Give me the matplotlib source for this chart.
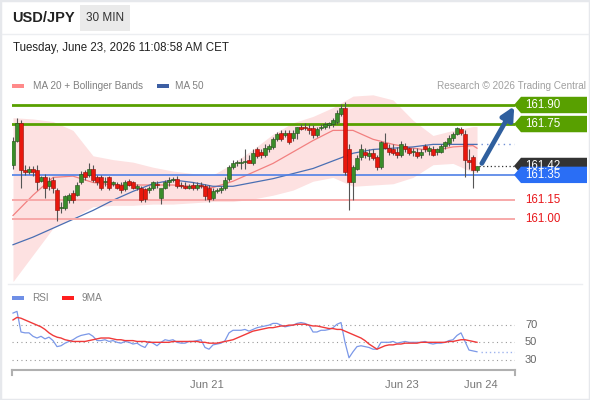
import matplotlib
matplotlib.use('Agg')
import matplotlib.pyplot as plt
import matplotlib.transforms as mtransforms
from matplotlib.patches import Polygon, Rectangle
from matplotlib.lines import Line2D
import numpy as np

plt.rcParams['font.family'] = ['Liberation Sans', 'DejaVu Sans']

# ---- price candles (USD/JPY, 30 min) ----
opens = [161.43, 161.62, 161.76, 161.39, 161.37, 161.40, 161.39, 161.30, 161.33, 161.26,
         161.31, 161.23, 161.09, 161.09, 161.15, 161.21, 161.19, 161.29, 161.37, 161.35,
         161.40, 161.33, 161.33, 161.29, 161.33, 161.28, 161.28, 161.27, 161.24, 161.30,
         161.29, 161.25, 161.25, 161.24, 161.23, 161.25, 161.28, 161.17, 161.25, 161.29,
         161.31, 161.32, 161.27, 161.26, 161.25, 161.27, 161.25, 161.27, 161.26, 161.25,
         161.17, 161.22, 161.23, 161.25, 161.32, 161.41, 161.44, 161.44, 161.45, 161.47,
         161.44, 161.55, 161.53, 161.51, 161.55, 161.57, 161.63, 161.68, 161.66, 161.68,
         161.64, 161.68, 161.73, 161.73, 161.72, 161.72, 161.66, 161.72, 161.73, 161.74,
         161.75, 161.77, 161.83, 161.88, 161.55, 161.29, 161.40, 161.49, 161.53, 161.50,
         161.52, 161.49, 161.41, 161.60, 161.56, 161.55, 161.53, 161.51, 161.58, 161.56,
         161.53, 161.53, 161.51, 161.58, 161.54, 161.55, 161.53, 161.53, 161.58, 161.60,
         161.64, 161.67, 161.71, 161.67, 161.47, 161.49, 161.39]
highs = [161.65, 161.80, 161.78, 161.43, 161.42, 161.42, 161.43, 161.34, 161.36, 161.33,
         161.33, 161.25, 161.14, 161.19, 161.21, 161.23, 161.29, 161.38, 161.39, 161.44,
         161.43, 161.35, 161.35, 161.33, 161.34, 161.30, 161.29, 161.29, 161.31, 161.32,
         161.30, 161.28, 161.26, 161.25, 161.26, 161.30, 161.30, 161.23, 161.31, 161.33,
         161.33, 161.34, 161.29, 161.29, 161.28, 161.29, 161.29, 161.29, 161.28, 161.27,
         161.25, 161.25, 161.26, 161.33, 161.43, 161.47, 161.47, 161.48, 161.55, 161.51,
         161.55, 161.57, 161.55, 161.59, 161.59, 161.65, 161.69, 161.70, 161.70, 161.70,
         161.70, 161.73, 161.75, 161.76, 161.75, 161.74, 161.73, 161.75, 161.77, 161.77,
         161.80, 161.86, 161.91, 161.92, 161.59, 161.43, 161.51, 161.59, 161.56, 161.55,
         161.55, 161.51, 161.62, 161.68, 161.59, 161.59, 161.57, 161.62, 161.60, 161.57,
         161.56, 161.56, 161.55, 161.59, 161.58, 161.58, 161.56, 161.59, 161.62, 161.66,
         161.69, 161.73, 161.73, 161.70, 161.55, 161.51, 161.42]
lows = [161.40, 161.61, 161.25, 161.35, 161.36, 161.34, 161.23, 161.29, 161.17, 161.23,
        161.21, 160.99, 161.05, 161.07, 161.13, 161.13, 161.18, 161.28, 161.31, 161.33,
        161.29, 161.27, 161.23, 161.26, 161.23, 161.26, 161.24, 161.21, 161.22, 161.26,
        161.24, 161.23, 161.14, 161.14, 161.21, 161.23, 161.25, 161.12, 161.24, 161.26,
        161.29, 161.25, 161.25, 161.24, 161.24, 161.23, 161.23, 161.25, 161.15, 161.14,
        161.15, 161.21, 161.21, 161.23, 161.30, 161.40, 161.42, 161.40, 161.40, 161.44,
        161.43, 161.48, 161.48, 161.49, 161.53, 161.55, 161.62, 161.62, 161.65, 161.59,
        161.62, 161.63, 161.70, 161.70, 161.67, 161.64, 161.65, 161.70, 161.71, 161.72,
        161.73, 161.75, 161.81, 161.35, 161.07, 161.15, 161.39, 161.47, 161.48, 161.47,
        161.47, 161.39, 161.40, 161.55, 161.51, 161.51, 161.48, 161.49, 161.53, 161.51,
        161.50, 161.48, 161.48, 161.53, 161.51, 161.50, 161.51, 161.52, 161.55, 161.58,
        161.62, 161.66, 161.66, 161.33, 161.40, 161.25, 161.37]
closes = [161.62, 161.76, 161.39, 161.37, 161.40, 161.37, 161.29, 161.33, 161.25, 161.30,
          161.25, 161.07, 161.10, 161.18, 161.19, 161.15, 161.27, 161.36, 161.33, 161.40,
          161.31, 161.29, 161.25, 161.30, 161.25, 161.29, 161.25, 161.23, 161.29, 161.27,
          161.25, 161.26, 161.15, 161.16, 161.25, 161.29, 161.27, 161.25, 161.29, 161.31,
          161.32, 161.26, 161.26, 161.25, 161.26, 161.25, 161.27, 161.26, 161.18, 161.16,
          161.22, 161.23, 161.25, 161.31, 161.41, 161.44, 161.45, 161.45, 161.46, 161.44,
          161.52, 161.50, 161.51, 161.56, 161.58, 161.63, 161.67, 161.63, 161.68, 161.61,
          161.68, 161.73, 161.71, 161.72, 161.70, 161.66, 161.71, 161.73, 161.75, 161.76,
          161.78, 161.84, 161.88, 161.37, 161.29, 161.41, 161.48, 161.55, 161.51, 161.52,
          161.48, 161.41, 161.61, 161.56, 161.53, 161.52, 161.51, 161.59, 161.55, 161.52,
          161.54, 161.50, 161.53, 161.55, 161.56, 161.51, 161.55, 161.58, 161.61, 161.64,
          161.67, 161.72, 161.68, 161.47, 161.45, 161.39, 161.42]

# ---- indicators, read every 5 candles ----
ind_idx = [0, 5, 10, 15, 20, 25, 30, 35, 40, 45, 50, 55, 60, 65, 70, 75, 80, 85, 90, 95,
           100, 105, 110, 115, 116]
bb_upper = [161.80, 161.79, 161.77, 161.70, 161.50, 161.47, 161.45, 161.41, 161.38, 161.36,
            161.35, 161.44, 161.55, 161.67, 161.76, 161.81, 161.88, 161.97, 161.98, 161.94,
            161.78, 161.66, 161.70, 161.73, 161.73]
bb_lower = [160.51, 160.72, 160.93, 161.01, 161.10, 161.11, 161.11, 161.12, 161.12, 161.13,
            161.14, 161.14, 161.16, 161.19, 161.23, 161.30, 161.33, 161.26, 161.27, 161.28,
            161.33, 161.43, 161.44, 161.37, 161.37]
ma20 = [161.03, 161.19, 161.33, 161.34, 161.29, 161.27, 161.27, 161.27, 161.27, 161.26,
        161.25, 161.30, 161.37, 161.44, 161.53, 161.62, 161.70, 161.70, 161.63, 161.59,
        161.56, 161.54, 161.57, 161.58, 161.56]
ma50 = [160.80, 160.86, 160.93, 161.00, 161.07, 161.15, 161.22, 161.28, 161.31, 161.29,
        161.26, 161.26, 161.29, 161.32, 161.36, 161.40, 161.46, 161.52, 161.55, 161.56,
        161.57, 161.59, 161.59, 161.59, 161.59]

# ---- RSI panel ----
rsi = [84, 86, 62, 61, 61, 57, 55, 57, 54, 56, 52, 45, 46, 49, 51, 53, 56, 58, 59, 60,
       57, 52, 52, 53, 51, 52, 50, 49, 51, 50, 48, 49, 46, 44, 51, 49, 46, 50, 53, 52,
       53, 50, 49, 49, 51, 51, 52, 53, 44, 42, 47, 48, 49, 52, 61, 64, 64, 64, 65, 63,
       65, 67, 68, 69, 70, 72, 72, 70, 68, 69, 70, 72, 73, 72, 70, 62, 62, 64, 64, 65,
       67, 71, 73, 50, 32, 39, 45, 46, 45, 44, 42, 42, 50, 50, 50, 51, 49, 50, 51, 50,
       50, 50, 50, 51, 49, 48, 49, 49, 50, 52, 53, 58, 61, 51, 41, 40, 39]
rsi_ma9 = [76, 79, 78, 76, 74, 72, 70, 68, 65, 61, 58, 56, 55, 53, 52, 51, 51, 51, 51, 52,
           53, 54, 55, 55, 55, 54, 53, 53, 52, 52, 52, 51, 51, 51, 50, 50, 50, 50, 50, 50,
           51, 51, 51, 51, 51, 51, 51, 50, 50, 49, 49, 49, 50, 51, 52, 53, 55, 57, 59, 61,
           63, 64, 65, 66, 67, 67, 68, 69, 69, 70, 70, 71, 71, 71, 70, 69, 69, 68, 67, 66,
           66, 65, 65, 63, 61, 59, 57, 55, 52, 48, 45, 42, 44, 46, 47, 47, 48, 48, 49, 49,
           49, 49, 50, 50, 50, 50, 50, 50, 50, 51, 51, 52, 53, 53, 52, 51, 50]

resistances = [161.90, 161.75]
pivot = 161.35
supports = [161.15, 161.00]
last_price = 161.42
date_ticks = [48.5, 97.25, 117]
date_labels = ['Jun 21', 'Jun 23', 'Jun 24']

W, H = 590, 400
fig = plt.figure(figsize=(W / 100, H / 100), dpi=100)
fig.patch.set_facecolor('white')


def fx(x):
    return x / W


def fy(y):
    return 1 - y / H


# frame and separators
fig.add_artist(Rectangle((0, 0), 1, 1, transform=fig.transFigure, fill=False,
                         ec='#e6e8ec', lw=2.5))
fig.add_artist(Line2D([fx(2), fx(588)], [fy(34), fy(34)], color='#eceef1', lw=1))
fig.add_artist(Line2D([fx(8), fx(582)], [fy(284), fy(284)], color='#eceef1', lw=1))

# header
fig.text(fx(12), fy(18), 'USD/JPY', fontsize=10.5, fontweight='bold', color='#222222',
         va='center')
fig.add_artist(Rectangle((fx(80), fy(31)), fx(50), 26 / H, transform=fig.transFigure,
                         fc='#eaeaea', ec='none'))
fig.text(fx(105), fy(18), '30 MIN', fontsize=8.5, color='#333333', ha='center', va='center')
fig.text(fx(13), fy(48), 'Tuesday, June 23, 2026 11:08:58 AM CET', fontsize=8.3,
         color='#222222', va='center')

# legend of main panel
fig.add_artist(Rectangle((fx(12), fy(88)), fx(12), 4 / H, transform=fig.transFigure,
                         fc='#ff8a8a', ec='none'))
fig.text(fx(33), fy(86), 'MA 20 + Bollinger Bands', fontsize=7.2, color='#808080',
         va='center')
fig.add_artist(Rectangle((fx(157), fy(88)), fx(12), 4 / H, transform=fig.transFigure,
                         fc='#3d5fa3', ec='none'))
fig.text(fx(175), fy(86), 'MA 50', fontsize=7.2, color='#808080', va='center')
fig.text(fx(586), fy(86), 'Research \u00a9 2026 Trading Central', fontsize=7.2,
         color='#a0a0a0', va='center', ha='right')

# ---- main price panel ----
ax = fig.add_axes([fx(12), fy(285), fx(515) - fx(12), fy(90) - fy(285)])
ax.set_xlim(-0.25, 125.5)
ax.set_ylim(160.483, 162.018)
ax.axis('off')

ax.fill_between(ind_idx, bb_lower, bb_upper, color='#fde1e1', lw=0, zorder=1)
ax.plot(ind_idx, ma20, color='#f28080', lw=0.9, zorder=2)
ax.plot(ind_idx, ma50, color='#4a6fb3', lw=0.9, zorder=2)

for lv in resistances:
    ax.axhline(lv, color='#58a000', lw=2.0, zorder=3)
ax.axhline(pivot, color='#4f80e6', lw=1.2, zorder=3)
for lv in supports:
    ax.axhline(lv, color='#f7a9a9', lw=1.4, zorder=3)

idx = np.arange(len(closes))
o = np.array(opens)
c = np.array(closes)
up = c >= o
body_lo = np.minimum(o, c)
body_h = np.maximum(np.abs(c - o), 0.006)
ax.vlines(idx, lows, highs, color='#555555', lw=0.8, zorder=4)
ax.bar(idx[up], body_h[up], bottom=body_lo[up], width=0.8, color='#3a8c2a',
       edgecolor='#24501a', lw=0.4, zorder=5)
ax.bar(idx[~up], body_h[~up], bottom=body_lo[~up], width=0.8, color='#e8170d',
       edgecolor='#8c100a', lw=0.4, zorder=5)

# projections to the right edge
ax.hlines(last_price, len(closes) - 0.5, 125.5, colors='#333333', linestyles=(0, (1, 2)),
          lw=0.9, zorder=3)
ax.hlines(ma50[-1], len(closes), 125.5, colors='#6f8fd6', linestyles=(0, (1, 3)),
          lw=1.0, zorder=3)

ax.annotate('', xy=(125.3, 161.89), xytext=(117.2, 161.44),
            arrowprops=dict(arrowstyle='-|>', color='#2f5f9e', lw=3.4,
                            mutation_scale=19, shrinkA=0, shrinkB=0), zorder=6)

# price tags on the right
trans = mtransforms.blended_transform_factory(fig.transFigure, ax.transData)
half = 8.2 / 127


def price_tag(level, text, face, txtcolor='white'):
    pts = [(fx(514), level), (fx(521), level + half), (fx(587), level + half),
           (fx(587), level - half), (fx(521), level - half)]
    ax.add_patch(Polygon(pts, closed=True, transform=trans, fc=face, ec='none',
                         clip_on=False, zorder=7))
    ax.text(fx(525), level, text, transform=trans, color=txtcolor, fontsize=8.3,
            va='center', ha='left', clip_on=False, zorder=8)


for lv in resistances:
    price_tag(lv, f'{lv:.2f}', '#58a000')
price_tag(last_price, f'{last_price:.2f}', '#333333')
price_tag(pivot, f'{pivot:.2f}', '#2a6ef5')
for lv in supports:
    ax.text(fx(525), lv, f'{lv:.2f}', transform=trans, color='#e8161a', fontsize=8.3,
            va='center', ha='left', clip_on=False)

# ---- RSI panel ----
fig.add_artist(Rectangle((fx(12), fy(300)), fx(12), 4 / H, transform=fig.transFigure,
                         fc='#6f8fe6', ec='none'))
fig.text(fx(32), fy(298), 'RSI', fontsize=7.2, color='#808080', va='center')
fig.add_artist(Rectangle((fx(62), fy(300)), fx(12), 4 / H, transform=fig.transFigure,
                         fc='#ff1f1f', ec='none'))
fig.text(fx(82), fy(298), '9MA', fontsize=7.2, color='#808080', va='center')

rax = fig.add_axes([fx(12), fy(370), fx(515) - fx(12), fy(305) - fy(370)])
rax.set_xlim(-0.25, 125.5)
rax.set_ylim(17.8, 93.4)
for s in ['top', 'right', 'left']:
    rax.spines[s].set_visible(False)
rax.spines['bottom'].set_color('#b0b0b0')
rax.spines['bottom'].set_linewidth(1.5)
rax.set_yticks([])
rax.set_xticks(date_ticks)
rax.set_xticklabels(date_labels)
rax.tick_params(axis='x', length=0, pad=7, labelsize=8, labelcolor='#777777')
for xe in [0, 1]:
    rax.plot([xe, xe], [0, -0.08], transform=rax.transAxes, color='#b0b0b0', lw=1.5,
             clip_on=False)

rtrans = mtransforms.blended_transform_factory(fig.transFigure, rax.transData)
for lv in [70, 50, 30]:
    rax.axhline(lv, color='#9a9a9a', lw=0.8, ls=(0, (1, 3)))
    rax.text(fx(525), lv, str(lv), transform=rtrans, fontsize=8, color='#666666',
             va='center')

rax.plot(idx, rsi, color='#7b98e8', lw=0.9)
rax.plot(idx, rsi_ma9, color='#f03a3a', lw=1.0)
rax.hlines(rsi[-1], len(rsi), 125.5, colors='#9fb4ee', linestyles=(0, (1, 2)), lw=1.0)

fig.savefig('out.png', dpi=100)
